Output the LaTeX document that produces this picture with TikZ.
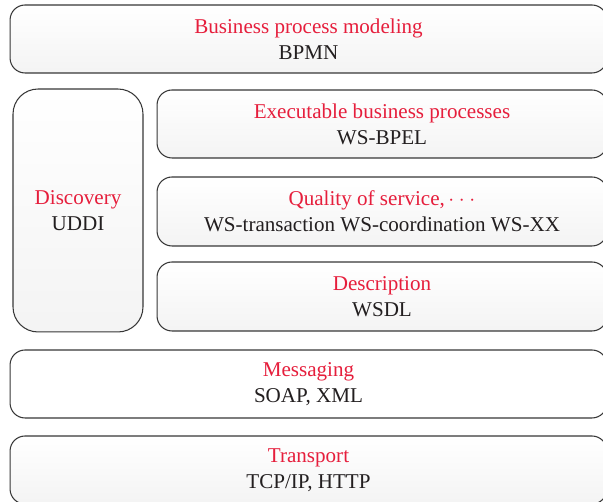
\documentclass[tikz,border=0pt]{standalone}
\usepackage{fontspec}
\setmainfont{Liberation Serif}
\usepackage{tikz}
\definecolor{lblred}{RGB}{230,30,60}
\definecolor{txtgray}{RGB}{35,31,32}
\definecolor{edgegray}{RGB}{55,55,55}
\newcommand{\lbl}[1]{\textcolor{lblred}{#1}}
\begin{document}
\begin{tikzpicture}[x=0.02cm,y=-0.02cm,
  layer/.style={draw=edgegray,line width=0.6pt,rounded corners=0.3cm,top color=white,bottom color=gray!9,
    align=center,text=txtgray,font=\fontsize{12}{14.8}\selectfont,inner sep=0pt},
  plain/.style={layer,top color=white,bottom color=white}]
\useasboundingbox (0,0) rectangle (603,502);
\node[layer,minimum width=11.94cm,minimum height=1.36cm] (bpm) at (308.5,39) {\lbl{Business process modeling}\\BPMN};
\node[layer,rounded corners=0.5cm,minimum width=2.6cm,minimum height=4.86cm] (disc) at (78,210.5) {\lbl{Discovery}\\UDDI};
\node[layer,minimum width=9cm,minimum height=1.36cm] (exec) at (382,124) {\lbl{Executable business processes}\\WS-BPEL};
\node[layer,minimum width=9cm,minimum height=1.38cm] (qos) at (382,211.5) {\lbl{Quality of service,\,$\cdot\cdot\cdot$}\\WS-transaction WS-coordination WS-XX};
\node[layer,minimum width=9cm,minimum height=1.38cm] (desc) at (382,296.5) {\lbl{Description}\\WSDL};
\node[plain,minimum width=11.94cm,minimum height=1.36cm] (msg) at (308.5,384) {\lbl{Messaging}\\SOAP, XML};
\node[layer,minimum width=11.94cm,minimum height=1.36cm] (trans) at (308.5,470) {\lbl{Transport}\\TCP/IP, HTTP};
\end{tikzpicture}
\end{document}
